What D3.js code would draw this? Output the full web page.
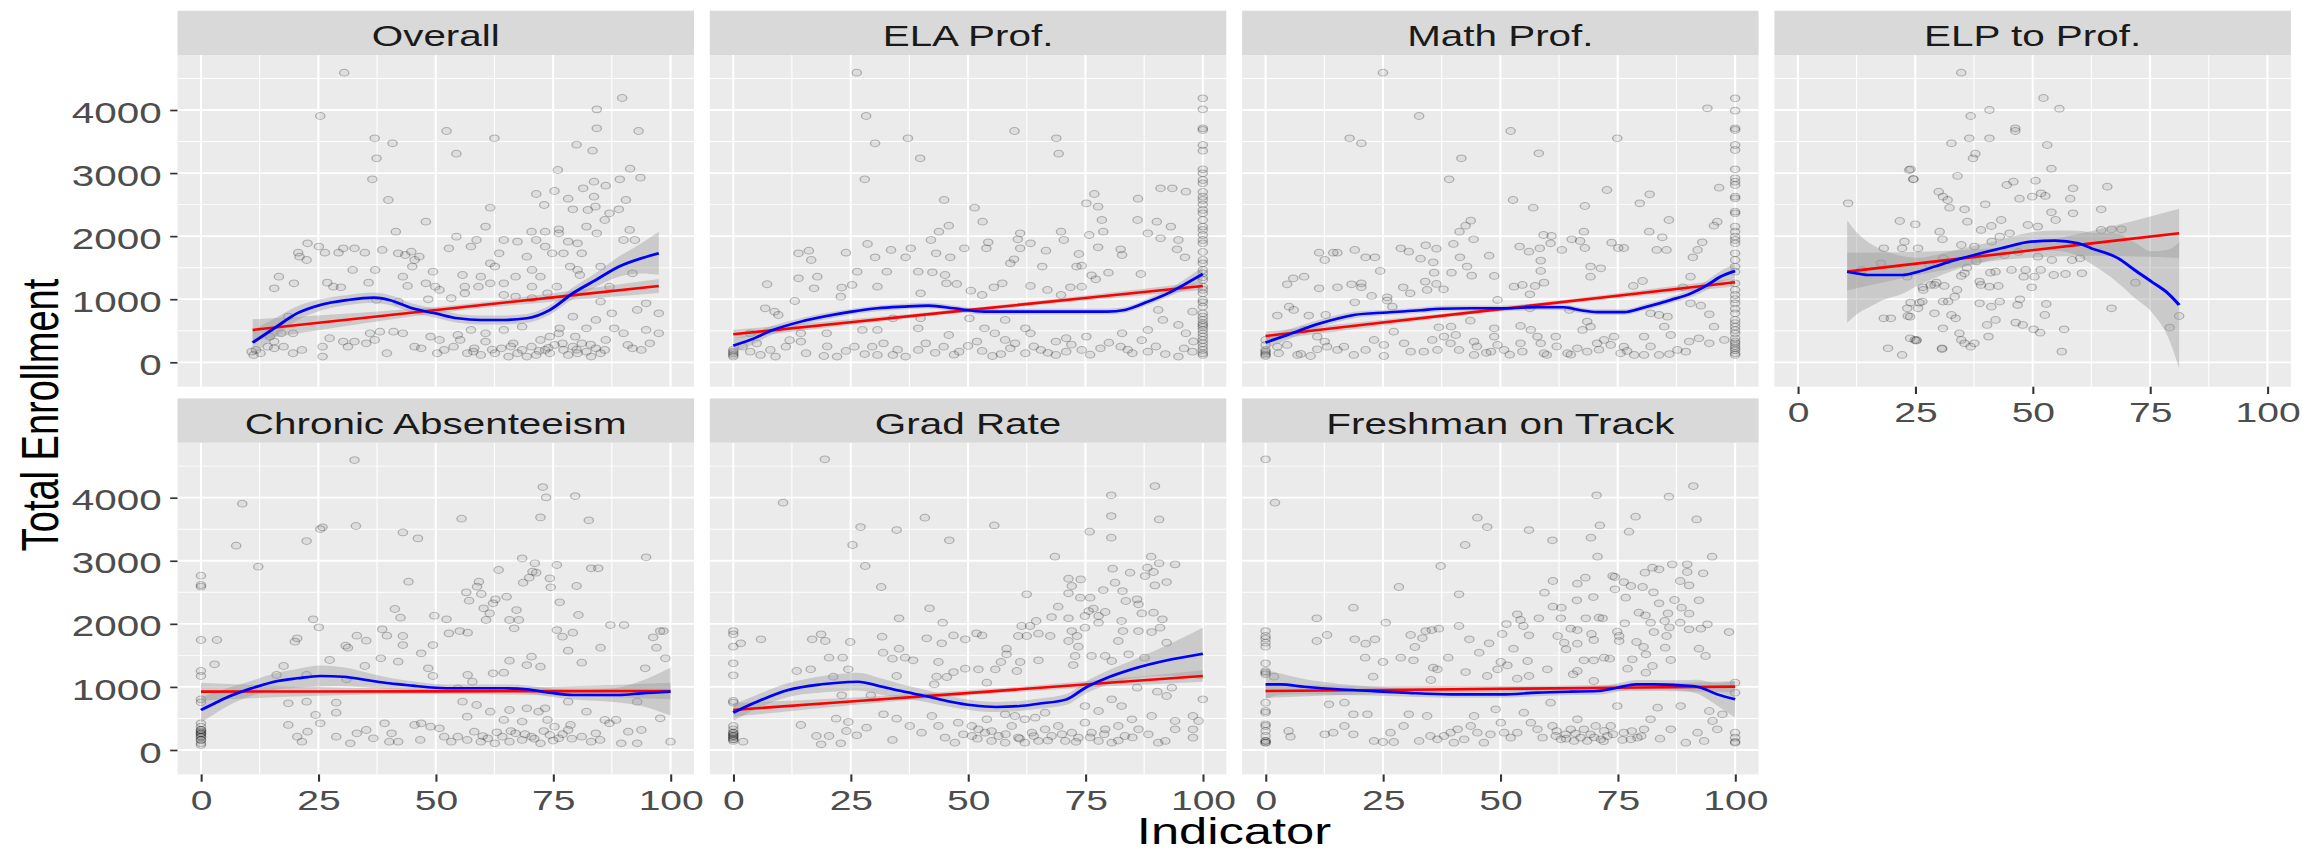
<!DOCTYPE html>
<html><head><meta charset="utf-8">
<script src="https://cdn.jsdelivr.net/npm/d3@7"></script>
<style>html,body{margin:0;padding:0;background:#fff;overflow:hidden}</style>
</head><body>
<script>
// ---------- tick labels / categories ----------
const panelNames = ["Overall","ELA Prof.","Math Prof.","ELP to Prof.","Chronic Absenteeism","Grad Rate","Freshman on Track"];
const xTicks = [0,25,50,75,100];
const xMinor = [12.5,37.5,62.5,87.5];
const yTicks = [0,1000,2000,3000,4000];
const yMinor = [500,1500,2500,3500,4500];
const xTitle = "Indicator";
const yTitle = "Total Enrollment";

// ---------- data: scatter points [indicator, enrollment] ----------
const overallPts = [[30.5,4592],[25.4,3905],[37,3551],[37.4,3234],[40.8,3472],[36.5,2901],[39.9,2573],[52.3,3667],[54.4,3308],[62.5,3551],[76,3049],[80,3450],[83.4,3355],[84.3,3709],[84.3,4010],[89.7,4190],[93.2,3667],[91.4,3070],[93.6,2927],[89.2,2901],[86.2,2800],[83.7,2864],[83.7,2626],[81.4,2758],[71.4,2668],[75.3,2716],[73.1,2494],[78.2,2594],[61.6,2452],[60.6,2151],[79.2,2425],[87,2362],[89,2425],[90.5,2573],[82.4,2415],[84,2468],[86,2256],[82.1,2151],[76.2,2108],[73.3,2071],[70.4,2071],[76.2,2045],[84.3,2045],[91.3,2098],[92.4,1939],[90,1939],[80.2,1886],[78.2,1913],[73.3,1834],[71.4,1939],[67.4,1913],[64.5,1939],[57.5,1834],[58.7,1939],[54.4,1992],[47.9,2230],[41.5,2071],[52.8,1807],[63.5,1728],[61.6,1569],[62.6,1517],[69.4,1675],[74.8,1728],[77.2,1728],[81.1,1728],[78.6,1517],[85.1,1517],[80.2,1464],[80.7,1384],[70.5,1464],[72.3,1358],[67,1358],[55.7,1384],[59.6,1358],[61.6,1252],[64.5,1252],[56.2,1199],[59.1,1199],[64.5,1067],[70.5,1199],[75.8,1199],[87,1199],[91.9,1411],[94.8,935],[92.9,830],[97.5,777],[97.5,460],[94.8,513],[95.6,301],[90.9,275],[93.8,196],[49.9,1199],[47.9,1252],[44,1210],[43,1358],[45,1517],[45.5,1622],[46.5,1675],[43.5,1701],[42,1728],[44.8,1754],[49.4,1437],[38.6,1781],[34.9,1738],[32.7,1807],[30.3,1807],[29.3,1738],[26.4,1738],[25.1,1834],[22.7,1886],[22.5,1622],[21,1675],[20.7,1738],[16.6,1358],[15.6,1173],[19.8,1252],[26.9,1263],[28.2,1199],[29.8,1189],[32.3,1464],[35.7,1263],[37.1,1464],[37.4,988],[42,962],[48.4,999],[50.8,1147],[53.3,1015],[56.2,1094],[67,1041],[70.5,1015],[73.8,1094],[85.1,962],[87.5,777],[88,539],[84.1,671],[79.2,724],[76.4,539],[82.1,539],[90,460],[91.9,222],[86.2,354],[50.3,143],[51.8,196],[53.8,248],[55.2,354],[56.7,143],[58.2,222],[59.6,116],[60.6,328],[62.6,143],[64,222],[65.5,90],[66.5,301],[67.4,143],[68.4,196],[69.4,90],[70.4,248],[71.4,116],[72.3,354],[73.3,196],[74.3,143],[75.3,275],[76.2,460],[77.2,196],[78.2,116],[79.2,248],[80.2,143],[81.1,301],[82.1,169],[83.1,90],[84.1,222],[85.1,143],[86,196],[79.7,407],[74.3,407],[68.4,565],[64.5,513],[60.6,460],[57.5,513],[54.7,433],[50.8,354],[48.9,407],[46.9,222],[45.5,248],[43,460],[41,486],[38.1,486],[36,460],[37,354],[39.6,143],[35.2,301],[32.7,328],[31.3,248],[30.3,328],[27.4,381],[25.9,90],[25.9,248],[21.5,196],[19.6,143],[17.6,248],[15.6,222],[14.2,248],[12.7,143],[11.2,116],[10.8,169],[11.7,196],[14.7,407],[17.1,460],[18.6,724],[19.6,460],[15.6,328],[72,180],[74,230],[77,300],[80,200],[83,280],[62,200],[58,170],[66,250]];

const elaPts = [[100,4185],[100,4011],[100,3709],[100,3683],[100,3445],[100,3355],[100,3059],[100,2996],[100,2890],[100,2838],[100,2626],[100,2573],[100,2415],[100,2362],[100,2256],[100,2151],[100,2098],[100,2018],[100,1939],[100,1886],[100,1622],[100,1569],[100,1464],[100,1411],[100,1305],[100,1199],[100,1094],[100,988],[100,882],[100,777],[100,724],[100,671],[100,592],[100,513],[100,460],[100,407],[100,354],[100,301],[100,248],[100,196],[100,143],[100,116],[100,2500],[100,2700],[100,1750],[100,1350],[100,1150],[100,950],[100,620],[100,560],
[26.3,4592],[28.3,3905],[30.2,3472],[28,2901],[37.2,3551],[39.8,3234],[59.9,3667],[68.8,3551],[69.3,3308],[44.9,2573],[51.4,2452],[53.1,2230],[76.9,2668],[75.2,2520],[77.7,2468],[86.2,2594],[91,2758],[93.5,2758],[96.4,2705],[78.5,2256],[86.1,2256],[90.2,2230],[93.2,2151],[88.3,2045],[91,1966],[94.8,1939],[94.5,1791],[96.2,1664],[78.8,2071],[75.8,2018],[69.8,2071],[70.4,1939],[66.6,1770],[73.6,1717],[77.7,1823],[82.5,1791],[82.8,1701],[73.1,1517],[74.2,1532],[76.3,1379],[77.2,1316],[79.9,1421],[86.8,1400],[71.8,1189],[74.2,1199],[69.8,1067],[66.9,1147],[65.8,1517],[63.3,1886],[61.1,2045],[60.6,1950],[59,1569],[59.8,1633],[61.1,1807],[54.3,1902],[53.9,1807],[49.2,1807],[45.9,2166],[43.8,2071],[42.1,1939],[43.2,1728],[46.2,1664],[42.4,1427],[45.1,1384],[45.4,1252],[47.6,1242],[39.9,1094],[39.4,1437],[37.8,1807],[36.7,1664],[33.6,1781],[32.7,1437],[30.2,1664],[28.6,1876],[26.4,1437],[25.3,1226],[23.1,1184],[22.9,1041],[24,1738],[16.1,1770],[16.6,1622],[13.9,1728],[13.9,1332],[17.9,1358],[17.2,1173],[7.2,1237],[13.1,972],[6.8,856],[8.8,803],[9.6,750],[30.7,1199],[57.3,1252],[55.5,1189],[63.3,1210],[50.6,1136],[53,1067],[39.9,697],[39.4,539],[45.9,433],[62.2,539],[63.3,460],[70.9,381],[75.2,407],[82.8,460],[88.3,513],[91.5,671],[90.5,830],[94.8,592],[96.4,460],[97.8,803],[97.8,169],[94.8,90],[88.3,169],[85,143],[82.5,248],[78.2,222],[74.2,196],[70.9,169],[68.7,116],[65.5,196],[62.2,143],[59,222],[55.2,100],[51.9,328],[48.1,169],[44.8,248],[39.4,196],[36.7,90],[34,116],[30.7,116],[29.6,248],[25.8,248],[22.1,90],[19.3,100],[15.5,143],[14.4,328],[11.2,248],[9,90],[7.9,196],[5.8,116],[3.6,169],[0,116],[0,169],[0,143],[0,200],[0,90],[27.5,513],[30.7,513],[55.7,460],[57.9,354],[68.7,328],[53.5,539],[57.9,671],[50.3,697],[34,697],[19.9,460],[14.4,460],[3.6,460],[41,300],[43,150],[47,120],[50,260],[53,180],[57,130],[60,300],[64,250],[67,150],[72,280],[76,120],[80,310],[84,200],[87,350],[90,250],[92,130],[96,220],[98,330],[20,250],[24,180],[28,130],[32,300],[35,200],[12,350],[5,300],[2,250]];

const mathPts = [[100,4185],[100,3989],[100,3709],[100,3683],[100,3445],[100,3366],[100,3059],[100,2917],[100,2864],[100,2811],[100,2626],[100,2600],[100,2388],[100,2362],[100,2151],[100,2071],[100,1992],[100,1939],[100,1886],[100,1728],[100,1622],[100,1517],[100,1437],[100,1252],[100,1147],[100,1067],[100,935],[100,777],[100,671],[100,565],[100,460],[100,380],[100,301],[100,222],[100,143],[100,116],[100,1000],[100,850],[100,620],[100,510],[100,330],[100,260],[100,190],
[25,4592],[32.7,3905],[17.9,3551],[20.4,3472],[52.2,3667],[58.2,3313],[74.9,3551],[94.1,4026],[41.7,3234],[39.1,2901],[52.7,2573],[57,2452],[68,2478],[72.7,2732],[79.7,2520],[81.8,2663],[96.6,2769],[85.9,2256],[96.2,2230],[95.5,2166],[81.7,2071],[84.5,1981],[67.8,2071],[67,1923],[65.2,1950],[73.7,1897],[75.1,1812],[76.3,1812],[83.3,1781],[85.4,1781],[68,1812],[63.1,1781],[60.7,1886],[59.2,2018],[60.9,2002],[58.4,1807],[56.1,1754],[54.1,1834],[58.6,1612],[58.6,1448],[59.3,1263],[57.4,1210],[56.3,1078],[54.7,1226],[52.9,1199],[48.7,1369],[47.6,1691],[44.3,1950],[43.7,2246],[42.6,2166],[41.3,2071],[40,1876],[41.4,1664],[42.9,1517],[43.9,1374],[39.6,1421],[37.9,1157],[36.4,1242],[35.9,1421],[35.7,1585],[36.4,1802],[34.1,1855],[33,1643],[30.5,1754],[28.8,1807],[23.3,1664],[24.4,1448],[21.3,1664],[19,1781],[15.3,1738],[14.4,1738],[11.4,1738],[12.6,1622],[8.2,1358],[5.9,1332],[4.6,1236],[11.4,1173],[15.3,1189],[18.3,1236],[20.4,1252],[20.4,1189],[19,951],[22.6,1052],[25.9,1030],[25.9,978],[29.3,1189],[30.8,1094],[34.4,1147],[34,1279],[5,882],[6,830],[2.5,740],[9.2,740],[12.8,750],[27,882],[49.4,988],[56.3,856],[64.7,830],[69.2,1517],[71.4,1490],[69.2,1358],[80.3,1289],[78.3,1210],[92,1781],[93,1902],[91,1664],[90.5,1358],[88.9,1189],[90.5,935],[92.7,898],[94.5,761],[85.6,724],[83.8,750],[82,777],[68.5,645],[54.3,576],[56.5,513],[57.9,407],[48.7,539],[43.6,660],[39.5,565],[36.9,555],[40.5,433],[38,407],[35.5,354],[39.4,301],[41.2,196],[36.6,196],[44.4,328],[44.4,116],[48.7,407],[49.4,275],[50.8,196],[48,169],[54.3,301],[54.7,169],[58.6,301],[59.3,143],[59.9,116],[61.8,407],[64.3,143],[66.4,222],[68.5,169],[67.5,513],[69.2,565],[70.6,301],[72.1,354],[73.5,275],[74.2,407],[75.6,143],[76.3,248],[78.5,116],[80.6,116],[80.6,407],[83.8,116],[84.9,565],[86.3,433],[87.7,196],[89.5,169],[92.3,380],[94.5,301],[97.7,354],[95.5,565],[90.2,328],[33.7,169],[30.9,169],[29.5,301],[27.3,486],[25.2,275],[25.2,100],[23.1,354],[21.3,196],[18.8,116],[16.7,248],[15.3,196],[13.1,248],[11,206],[9.6,100],[7.5,132],[6.8,116],[4.6,275],[2.8,143],[2.5,248],[0,143],[0,100],[0,196],[0,275],[0,354],[0,120],[0,170],[11,407],[8.2,513],[12.6,328],[62,250],[65,120],[71,200],[77,180],[82,250],[86,130],[45,250],[47,150],[52,120]];

const elpPts = [[34.8,4592],[52.3,4190],[55.7,4021],[40.8,4000],[36.8,3905],[46.3,3709],[46.3,3667],[32.7,3472],[36.5,3551],[40.8,3551],[53.1,3445],[37.8,3308],[37.3,3234],[54,3070],[34,2954],[23.7,3049],[24.6,2901],[44.5,2811],[45.9,2864],[50.6,2880],[58.6,2758],[65.9,2785],[30,2705],[30.9,2626],[31.9,2573],[32.3,2452],[35.5,2425],[39.9,2505],[47.2,2594],[49.9,2626],[51.8,2679],[52.7,2637],[58,2594],[54,2378],[54.9,2256],[58.6,2362],[64.6,2425],[36.1,2230],[43.3,2256],[41.2,2161],[39,2098],[30.2,2071],[30.8,1950],[49,2177],[51.1,2151],[64.6,2098],[66.8,2108],[68.9,2108],[43,1992],[45.1,2045],[34.8,1860],[37.6,1834],[41.3,1913],[51.1,1675],[54.1,1622],[58.4,1622],[60.1,1649],[60.5,1411],[57,1400],[54.5,1384],[51.7,1464],[50.4,1358],[48.5,1464],[48.1,1358],[49.8,1189],[45.5,1464],[42.1,1437],[41,1421],[38.7,1279],[39,1226],[40.8,1199],[42.7,1210],[35.5,1411],[34.8,1369],[31.2,1210],[29.1,1226],[33.9,1147],[33.4,1041],[32,962],[30.9,962],[29.1,777],[32.7,750],[33.6,697],[30.9,539],[30.7,211],[34.4,460],[34.8,354],[35.5,301],[37.6,301],[36.8,248],[40.6,407],[40.3,592],[42.1,671],[38.7,935],[41.2,882],[43,962],[46.8,909],[47.3,999],[46.4,629],[47.9,592],[50.2,523],[51.6,470],[52.6,750],[52.9,925],[56.7,523],[56.2,169],[66.8,856],[71.9,1263],[79.2,550],[81.2,734],[25.2,343],[24.9,354],[23.4,734],[24,946],[25.9,946],[26.6,1189],[29.5,1263],[25.6,1807],[22.7,1913],[10.7,2520],[21.7,2240],[25,2188],[18.3,1807],[17.7,1569],[22.2,1807],[23.3,1358],[19.2,222],[22.2,116],[19.8,697],[18.3,697],[23.3,856],[23.9,724],[25.6,856],[26.5,962],[23.9,380],[25.3,354],[24,3059],[24.6,2906],[30.7,222],[26.7,1147],[28.3,1226],[13.6,1464],[36,1500],[38,1600],[44,1700],[47,1750],[31,1650],[28,1550]];

const chronicPts = [[0,2764],[0,2589],[0,2616],[0,1744],[0,1252],[0,1173],[0,803],[0,756],[0,423],[0,370],[0,317],[0,264],[0,211],[0,159],[0,106],[0,79],[0,264],[0,211],[0,317],[0,159],[0,290],[0,240],
[3.4,1744],[2.9,1358],[7.5,3239],[8.8,3905],[12.2,2906],[22.5,3313],[25.4,3503],[25.9,3530],[32.7,4597],[33,3551],[43,3450],[46.2,3355],[44.2,2668],[23.9,2071],[25.1,1945],[20,1717],[20.5,1770],[27.4,1427],[17.6,1332],[16.1,1189],[22.5,1189],[33.2,1812],[35.2,1733],[30.8,1654],[31.3,1622],[38.6,1913],[39.6,1812],[41.3,2235],[42.5,2098],[43,1807],[43,1664],[42,1400],[38.3,1453],[34.9,1332],[31,1120],[46.9,1532],[48.4,1295],[49.4,1173],[49.7,2129],[52.3,2071],[52.8,1849],[49.4,1664],[55.5,3667],[55.1,1886],[56.8,1860],[56.5,2499],[57.1,2367],[58.8,2589],[59.2,2668],[59.7,2473],[60.2,2246],[60.7,2061],[61.5,2166],[62.2,2325],[62.7,2388],[63.4,2854],[65.1,2431],[65.7,2061],[66.7,1929],[67.7,2061],[67.2,2219],[68.4,3038],[68.6,2653],[69.9,2732],[70.6,2827],[71.4,2811],[71.1,2959],[72.3,3688],[72.8,4169],[73.5,4005],[74.3,2721],[74.5,2579],[75.8,2933],[76.4,2341],[75.8,1902],[77,1797],[78.2,1575],[79.2,1860],[80.4,2140],[79.7,4026],[80,2600],[82.6,3641],[83.1,2880],[84.6,2880],[81.1,1384],[85.1,1622],[87.2,1981],[90.1,1981],[94.8,3054],[96.3,1786],[97,1622],[97.8,1886],[98.5,1886],[98.9,1453],[94.6,1295],[97.8,502],[92.9,766],[93.8,317],[91,291],[100,132],[73.8,476],[72.3,1321],[70.4,1479],[69.4,1347],[65.7,1416],[64.5,1226],[62.2,1215],[57.8,1083],[56.8,1189],[54.7,978],[55.7,766],[58.7,713],[61.6,608],[65.7,634],[69.4,661],[73.3,661],[78.2,766],[82.1,608],[86,476],[87,423],[88.4,476],[84.1,264],[81.1,211],[78.2,317],[76.2,185],[74.3,238],[72.3,106],[70.4,211],[68.4,159],[67,264],[65.7,132],[64.2,211],[62.6,106],[61.1,185],[59.6,132],[58.2,291],[56.7,159],[54.7,211],[53.3,132],[51.8,211],[50.8,343],[48.9,370],[46.9,423],[45.5,397],[46.7,159],[42,132],[40.1,132],[40.6,264],[39.1,423],[36.7,185],[35.2,317],[33.2,264],[31.8,106],[28.8,211],[28.8,592],[28.8,750],[25.4,423],[24.4,555],[22.7,291],[21.5,132],[20.5,211],[18.6,397],[22.5,766],[18.6,740],[78.7,397],[75.3,370],[83.1,132],[85,159],[89.5,106],[92.9,106],[64.5,476],[68.4,450],[56.7,528],[71.9,608],[66,300],[69,250],[71,180],[73,300],[75,150],[77,250],[79,180],[63,280],[60,220]];

const gradPts = [[0,1886],[0,1834],[0,1638],[0,1374],[0,1184],[0,777],[0,750],[0,380],[0,328],[0,275],[0,222],[0,169],[0,143],[0,275],[0,222],[0,169],[0,250],[0,200],
[19.5,4608],[10.6,3921],[89.8,4185],[80.5,4037],[80.5,3709],[80.5,3366],[90.7,3656],[40.8,3683],[55.6,3561],[27.1,3535],[34.8,3487],[46,3324],[75.9,3461],[25.4,3250],[28.1,2917],[31.5,2584],[68.5,3065],[62.5,2468],[89,3065],[94.1,2943],[90.7,2959],[88.2,2890],[84.5,2811],[80.8,2874],[87.7,2758],[89.5,2822],[92.3,2663],[89.8,2610],[71.4,2716],[74,2705],[72.1,2600],[71.4,2484],[73.9,2415],[76,2415],[78.8,2536],[81.3,2653],[82.9,2520],[83.6,2362],[86,2388],[86.3,2309],[69.2,2272],[76.7,2240],[79.2,2188],[77.8,2124],[75.7,2203],[74.9,2124],[71.4,2087],[67.8,2108],[64.5,2045],[63.2,1966],[61.4,1966],[62.5,1807],[60.7,1807],[67.5,1807],[65,1844],[72.1,1886],[73.2,1807],[74.9,1939],[77.8,2018],[82.7,2045],[83,1886],[82,1728],[86.3,1886],[89.1,1870],[91.4,2071],[90.9,1939],[92.3,1701],[89.5,2177],[87,2166],[71.4,1728],[73.5,1638],[72.8,1490],[76.3,1490],[79.2,1490],[80.6,1411],[84.2,1517],[87.6,1464],[72.4,1347],[65,1421],[58.2,1606],[58.2,1517],[61.1,1395],[60.4,1252],[57,1395],[55.8,1279],[54,1067],[52.2,1279],[49.4,1289],[51.8,1849],[53,1817],[49.4,1754],[46.9,1817],[44.4,1691],[41.2,1770],[44.6,2018],[41.8,2246],[43.7,1395],[43.3,1162],[46.9,1236],[45.5,1157],[42.8,1041],[38.3,1421],[36.6,1464],[34.8,1173],[33.9,1448],[31.9,1543],[31.7,1797],[35.3,1606],[35.3,2087],[24.9,1712],[23.3,1464],[20.4,1464],[19.6,1728],[18.7,1834],[16.8,1754],[5.9,1754],[1.6,1691],[13.5,1252],[16.5,1279],[21.3,1162],[23.1,867],[24.5,1279],[29.3,867],[21.9,497],[24.5,444],[14.4,396],[17.7,222],[20.4,222],[18.7,90],[22.9,106],[26.3,232],[28.4,354],[24.1,301],[32,565],[34.8,497],[33.9,159],[2.1,132],[37.6,380],[40.1,275],[42.3,539],[43.7,380],[45.1,196],[47.2,116],[49,248],[50.8,222],[52.2,328],[53.6,275],[55,143],[56.5,222],[57.9,116],[59.3,380],[60.7,196],[62.1,116],[63.6,275],[65,143],[66.4,328],[67.8,222],[69.2,380],[70.7,143],[72.1,275],[73.5,196],[74.9,433],[76.3,275],[77.8,143],[79.2,328],[80.6,116],[82,380],[83.4,222],[84.9,486],[86.3,328],[74.9,697],[77.8,618],[80.6,803],[82.7,697],[66.4,592],[64.3,513],[62.1,486],[57.9,565],[60,539],[54,486],[50.8,380],[47.9,433],[89.1,539],[88.4,248],[90.5,116],[92,143],[94.1,460],[94.1,328],[97.9,328],[97.9,196],[97.9,539],[99.1,460],[100,803],[92.3,856],[90.3,925],[93.4,988],[86,988],[58,250],[61,180],[64,220],[67,150],[70,250],[73,130],[76,200],[79,250],[82,150],[85,200],[55,300],[52,180]];

const freshPts = [[0,4608],[0,1886],[0,1807],[0,1765],[0,1701],[0,1638],[0,1374],[0,1226],[0,1199],[0,750],[0,618],[0,592],[0,407],[0,380],[0,301],[0,222],[0,143],[0,116],[0,143],[0,116],[0,1250],
[2,3921],[10.9,2087],[10.9,1728],[13.1,1823],[18.7,2256],[19,1754],[21.3,1686],[23.3,1754],[21.2,1464],[25.6,2018],[28.4,2584],[25,1395],[22.9,1162],[28.8,1464],[31.5,1421],[30.9,1823],[31.8,1633],[33.4,1775],[34.1,1886],[35.4,1902],[36.9,1923],[37.3,2917],[41.2,2468],[42.5,3250],[45.1,3683],[47.2,3535],[41.2,1966],[43.4,1754],[47.6,1691],[45.5,1543],[38.9,1464],[35.7,1305],[36.6,1279],[35.2,1110],[42.6,1236],[47.2,1173],[49.4,1279],[50.1,1395],[51.5,1342],[50.4,1839],[51.3,1997],[52.8,1606],[53.6,2151],[54.3,2061],[54.9,1966],[56.1,1818],[56.1,3487],[53.6,1131],[55.8,1411],[56.1,1173],[58.2,2087],[59.4,2494],[61.1,3324],[61.2,2679],[61.2,2272],[63,2256],[62.9,2087],[62.2,1807],[63.6,1701],[64,1596],[60,1279],[65,1923],[66.4,1902],[66.4,1686],[66.3,2373],[66.4,2637],[68.1,2732],[69.8,2425],[69.3,3366],[70.7,3065],[71.2,3561],[70.5,4037],[68.2,2087],[69.4,1839],[69.9,1744],[71,2098],[71.8,2087],[67.8,1421],[69.9,1421],[72.1,1464],[73.3,1448],[66.4,1252],[65.5,1199],[69.9,1094],[73.9,2758],[74.4,2743],[76.3,2663],[74.4,2547],[74.9,1876],[75.3,1728],[75.3,1807],[76.5,2008],[76.7,2415],[77.8,2600],[78.8,3699],[77.4,3461],[80.3,2584],[80.8,2811],[82.4,2890],[83.8,2864],[82.6,2499],[83.8,2325],[79.5,2177],[80.9,2135],[82,2018],[82.7,1870],[85,2045],[86,1944],[85.4,1807],[85.1,1622],[79,1712],[80.5,1633],[81,1517],[82.4,1332],[81,1226],[78.1,1437],[77.1,1289],[86.6,2943],[85.9,4016],[91.1,4185],[91.8,3656],[89.8,2943],[89.8,2822],[93.2,2801],[95.1,3065],[88.3,2679],[90.2,2610],[87.1,2378],[88.6,2256],[92.3,2373],[85.7,2166],[90.2,2161],[88.3,2018],[90.2,1913],[92.7,1923],[94.1,1992],[92.3,1606],[93.7,1490],[86.3,1427],[98.7,1870],[100,1067],[100,909],[100,275],[100,196],[100,116],[100,130],[97.3,565],[94.5,618],[95.2,460],[96.2,328],[93.4,143],[92,275],[89.5,116],[88.4,697],[86.3,328],[83.5,671],[82,486],[80.6,328],[79.2,196],[77.8,169],[76.3,275],[74.9,697],[73.5,380],[72.8,222],[72.1,301],[71.4,169],[70.3,380],[69.2,248],[68.5,143],[67.8,328],[67.1,196],[66.4,486],[65.7,143],[65,328],[63.9,248],[62.9,169],[61.8,222],[61.1,380],[60.7,750],[59,196],[57.9,328],[56.5,433],[55,592],[53.6,275],[52.2,196],[50.8,275],[50.1,433],[49,645],[47.9,248],[46.5,116],[45.1,275],[44.4,539],[43.7,380],[42.3,169],[40.9,328],[40.1,116],[39.4,275],[38,222],[36.6,169],[35.1,222],[34.4,539],[32.7,143],[30.5,565],[29.4,380],[27.3,127],[26.6,275],[25,127],[23.1,143],[21.7,565],[18.7,565],[18.7,248],[16.8,380],[16.8,750],[14.4,275],[12.6,248],[13.5,724],[5.3,211],[4.9,301],[1.8,1162],[70,200],[72,140],[74,250],[76,160],[78,300],[80,220],[84,180],[66,260],[64,180],[62,300]];

// ---------- data: smooth fits [indicator, fit, half-width of band] ----------
const overallLoess = [[11,312,200],[15.6,539,150],[20.5,777,110],[25.4,909,90],[31.3,988,80],[36.7,1025,80],[40.1,988,80],[45,856,75],[49.9,777,70],[54.7,697,70],[59.6,671,70],[64.5,671,70],[69.4,697,70],[74.3,830,75],[79.2,1094,90],[84.1,1305,110],[89,1517,160],[93.8,1649,240],[97.5,1728,340]];
const overallLm = [[11,513,170],[33,690,90],[55,868,45],[76,1037,70],[97.5,1210,110]];
const elaLoess = [[0,264,110],[3.6,354,90],[8.5,513,70],[14.4,645,55],[19.9,734,50],[25.3,803,45],[30.7,856,45],[36.2,882,45],[41.6,898,45],[47,856,45],[53.5,803,45],[60,803,45],[70.9,803,45],[79.6,803,45],[83.4,830,45],[88.3,962,50],[92.6,1094,60],[95.9,1226,80],[100,1400,110]];
const elaLm = [[0,444,70],[25,636,45],[50,827,30],[75,1019,40],[100,1210,65]];
const mathLoess = [[0,312,100],[4.6,433,80],[11.7,618,60],[18.8,750,50],[25.9,790,45],[33,825,45],[37.3,850,45],[43.7,856,45],[50.8,856,45],[57.9,875,45],[63.6,872,45],[67.1,825,45],[70.6,795,45],[76.3,795,45],[80.6,870,45],[86.3,988,50],[90.6,1094,60],[94.1,1226,75],[96.9,1358,90],[100,1448,110]];
const mathLm = [[0,417,70],[25,630,45],[50,843,30],[75,1055,40],[100,1268,65]];
const elpLoess = [[10.5,1437,810],[13,1405,620],[15,1384,520],[18,1384,400],[22.2,1384,300],[25.6,1437,220],[29.1,1517,180],[33,1610,160],[36.2,1675,150],[43.3,1807,140],[49.7,1913,150],[54.7,1929,160],[59.7,1886,200],[62.5,1807,250],[68.2,1649,390],[71.7,1464,440],[75.3,1279,480],[78.8,1094,690],[81.2,909,1000]];
const elpLm = [[10.5,1437,300],[28,1588,170],[45,1734,100],[63,1889,200],[81.2,2045,390]];
const chronicLoess = [[0,634,200],[2.9,740,170],[5.9,845,140],[10.8,978,120],[15.6,1083,130],[20.5,1136,150],[25.4,1173,165],[30.3,1162,150],[35.2,1110,120],[40.1,1057,90],[45,1020,70],[49.9,988,60],[54.7,978,60],[59.6,978,60],[64.5,978,60],[69.4,962,60],[74.3,909,65],[79.2,872,70],[84.1,872,90],[89,872,120],[93.8,898,200],[100,925,380]];
const chronicLm = [[0,925,140],[25,928,70],[50,930,40],[75,933,70],[100,935,130]];
const gradLoess = [[0,592,130],[4.6,750,110],[11.7,951,110],[18.8,1041,130],[24.5,1078,140],[26.6,1083,140],[31,1015,130],[36,930,110],[41,856,95],[46,770,85],[51,708,80],[56,682,80],[61,697,80],[65,734,80],[71,803,85],[75,988,95],[79.2,1131,110],[84.9,1279,140],[93.4,1437,260],[100,1527,410]];
const gradLm = [[0,634,110],[25,769,60],[55,930,40],[80,1065,55],[100,1173,90]];
const freshLoess = [[0,1041,230],[3.2,1041,170],[8.2,1004,120],[15.3,962,90],[22.4,935,70],[29.5,909,60],[39.4,882,55],[50.1,882,55],[57.9,909,55],[65,925,55],[70.6,935,60],[74.9,988,65],[78.9,1041,70],[82.7,1041,70],[88.4,1025,80],[91.9,1004,110],[96.2,882,180],[100,803,290]];
const freshLm = [[0,935,110],[25,952,60],[55,973,40],[80,990,55],[100,1004,90]];

const panelData = [
  {pts: overallPts, lo: overallLoess, lm: overallLm},
  {pts: elaPts, lo: elaLoess, lm: elaLm},
  {pts: mathPts, lo: mathLoess, lm: mathLm},
  {pts: elpPts, lo: elpLoess, lm: elpLm},
  {pts: chronicPts, lo: chronicLoess, lm: chronicLm},
  {pts: gradPts, lo: gradLoess, lm: gradLm},
  {pts: freshPts, lo: freshLoess, lm: freshLm}
];

// ---------- layout (the reference is horizontally stretched by K) ----------
const K = 1.37;
const W = 2303, H = 852;
const font = "'Liberation Sans', Arial, Helvetica, sans-serif";
const colLeft = [177.5, 709.8, 1242.1, 1774.4].map(v => v / K);
const pw = 516.5 / K;
const stripTop = [10.7, 398.4], stripH = 44.3;
const pTop = [55, 442.7], ph = 331.7;
const tickLen = 7.3;
const tickFont = 28.5;

const svg = d3.select("body").append("svg")
  .attr("width", W).attr("height", H)
  .attr("viewBox", `0 0 ${W / K} ${H}`)
  .attr("preserveAspectRatio", "none");
svg.append("rect").attr("width", W / K).attr("height", H).attr("fill", "#ffffff");
const defs = svg.append("defs");

panelNames.forEach((name, i) => {
  const r = i < 4 ? 0 : 1, c = i < 4 ? i : i - 4;
  const x0 = colLeft[c], y0 = pTop[r];
  const x = d3.scaleLinear().domain([-5, 105]).range([x0, x0 + pw]);
  const y = d3.scaleLinear().domain([-387, 4872]).range([y0 + ph, y0]);
  const d = panelData[i];

  defs.append("clipPath").attr("id", "clip" + i)
    .append("rect").attr("x", x0).attr("y", y0).attr("width", pw).attr("height", ph);

  const g = svg.append("g");
  g.append("rect").attr("x", x0).attr("y", y0).attr("width", pw).attr("height", ph).attr("fill", "#EBEBEB");

  // grid
  g.selectAll(".hmin").data(yMinor).join("line")
    .attr("x1", x0).attr("x2", x0 + pw).attr("y1", v => y(v)).attr("y2", v => y(v))
    .attr("stroke", "#ffffff").attr("stroke-width", 0.9);
  g.selectAll(".vmin").data(xMinor).join("line")
    .attr("x1", v => x(v)).attr("x2", v => x(v)).attr("y1", y0).attr("y2", y0 + ph)
    .attr("stroke", "#ffffff").attr("stroke-width", 0.8);
  g.selectAll(".hmaj").data(yTicks).join("line")
    .attr("x1", x0).attr("x2", x0 + pw).attr("y1", v => y(v)).attr("y2", v => y(v))
    .attr("stroke", "#ffffff").attr("stroke-width", 1.8);
  g.selectAll(".vmaj").data(xTicks).join("line")
    .attr("x1", v => x(v)).attr("x2", v => x(v)).attr("y1", y0).attr("y2", y0 + ph)
    .attr("stroke", "#ffffff").attr("stroke-width", 1.5);

  const pg = g.append("g").attr("clip-path", `url(#clip${i})`);
  // points
  pg.selectAll("circle").data(d.pts).join("circle")
    .attr("cx", p => x(p[0])).attr("cy", p => y(p[1])).attr("r", 3.4)
    .attr("fill", "rgba(0,0,0,0.06)")
    .attr("stroke", "rgba(0,0,0,0.24)").attr("stroke-width", 1);

  // ribbons
  const band = d3.area().curve(d3.curveMonotoneX)
    .x(p => x(p[0])).y0(p => y(p[1] - p[2])).y1(p => y(p[1] + p[2]));
  pg.append("path").attr("d", band(d.lm)).attr("fill", "#999999").attr("fill-opacity", 0.4);
  pg.append("path").attr("d", band(d.lo)).attr("fill", "#999999").attr("fill-opacity", 0.4);

  // lines
  const lmLine = d3.line().x(p => x(p[0])).y(p => y(p[1]));
  const loLine = d3.line().curve(d3.curveMonotoneX).x(p => x(p[0])).y(p => y(p[1]));
  pg.append("path").attr("d", lmLine(d.lm)).attr("fill", "none").attr("stroke", "#FF0000").attr("stroke-width", 2.6);
  pg.append("path").attr("d", loLine(d.lo)).attr("fill", "none").attr("stroke", "#0000FF").attr("stroke-width", 2.6);

  // strip
  g.append("rect").attr("x", x0).attr("y", stripTop[r]).attr("width", pw).attr("height", stripH).attr("fill", "#D9D9D9");
  g.append("text").attr("x", x0 + pw / 2).attr("y", stripTop[r] + 35.3)
    .attr("text-anchor", "middle").attr("font-family", font).attr("font-size", 29.5)
    .attr("fill", "#1A1A1A").text(name);

  // y axis (left column only)
  if (c === 0) {
    const ax = g.append("g").attr("transform", `translate(${x0},0)`)
      .call(d3.axisLeft(y).tickValues(yTicks).tickSize(tickLen / K).tickPadding(8.5 / K).tickFormat(d3.format("d")));
    ax.select(".domain").remove();
    ax.selectAll("line").attr("stroke", "#333333").attr("stroke-width", 1.7);
    ax.selectAll("text").attr("font-family", font).attr("font-size", tickFont + 1).attr("fill", "#4D4D4D").attr("dy", "0.41em");
  }
  // x axis (bottom panel of each column)
  if (r === 1 || c === 3) {
    const ax = g.append("g").attr("transform", `translate(0,${y0 + ph})`)
      .call(d3.axisBottom(x).tickValues(xTicks).tickSize(tickLen).tickPadding(7.6).tickFormat(d3.format("d")));
    ax.select(".domain").remove();
    ax.selectAll("line").attr("stroke", "#333333").attr("stroke-width", 1.5);
    ax.selectAll("text").attr("font-family", font).attr("font-size", tickFont).attr("fill", "#4D4D4D");
  }
});

// axis titles
svg.append("text").attr("x", 1234 / K).attr("y", 844)
  .attr("text-anchor", "middle").attr("font-family", font).attr("font-size", 37)
  .attr("fill", "#000000").text(xTitle);
svg.append("text").attr("transform", `translate(${58.3 / K},415) rotate(-90)`)
  .attr("text-anchor", "middle").attr("font-family", font).attr("font-size", 38)
  .attr("fill", "#000000").text(yTitle);
</script>
</body></html>
